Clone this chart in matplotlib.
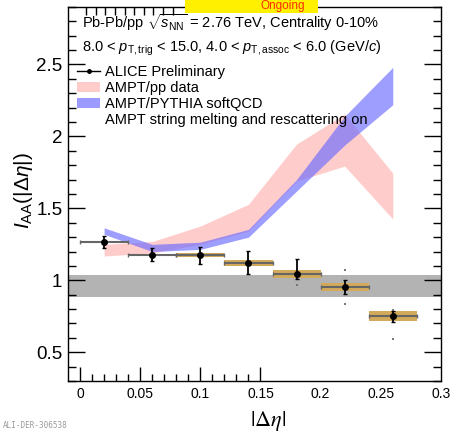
import numpy as np
import matplotlib
matplotlib.use("Agg")
import matplotlib.pyplot as plt
from matplotlib.lines import Line2D
from matplotlib.patches import Patch, Rectangle
from matplotlib.ticker import FixedLocator, MultipleLocator, NullFormatter

plt.rcParams['font.family'] = ['Liberation Sans', 'DejaVu Sans']
plt.rcParams['mathtext.fontset'] = 'custom'
plt.rcParams['mathtext.rm'] = 'Liberation Sans'
plt.rcParams['mathtext.it'] = 'Liberation Sans:italic'
plt.rcParams['mathtext.bf'] = 'Liberation Sans:bold'

# ALICE preliminary I_AA vs |delta eta|
deta = [0.02, 0.06, 0.10, 0.14, 0.18, 0.22, 0.26]
deta_half = [0.02, 0.02, 0.02, 0.02, 0.02, 0.02, 0.02]
iaa = [1.268, 1.178, 1.174, 1.122, 1.044, 0.953, 0.752]
stat_lo = [0.042, 0.046, 0.058, 0.079, 0.038, 0.047, 0.042]
stat_hi = [0.039, 0.046, 0.058, 0.079, 0.102, 0.047, 0.038]
syst = [0.0, 0.0, 0.013, 0.021, 0.026, 0.030, 0.036]

# extra small markers on the last bins
mark_x = [0.18, 0.22, 0.22, 0.26, 0.26]
mark_y = [0.965, 1.070, 0.833, 0.794, 0.592]

# AMPT bands
ampt_pp_lo = [1.169, 1.19, 1.25, 1.342, 1.69, 1.794, 1.426]
ampt_pp_hi = [1.25, 1.27, 1.377, 1.528, 1.947, 2.155, 1.745]
ampt_py_lo = [1.32, 1.20, 1.215, 1.30, 1.62, 1.94, 2.22]
ampt_py_hi = [1.365, 1.25, 1.265, 1.354, 1.70, 2.14, 2.48]

# normalisation uncertainty around unity
norm_lo, norm_hi = 0.886, 1.035

fig = plt.figure(figsize=(4.55, 4.33), dpi=100)
ax = fig.add_axes([0.1495, 0.12, 0.8195, 0.864])

ax.axhspan(norm_lo, norm_hi, color='#b3b3b3', lw=0, zorder=1)
ax.fill_between(deta, ampt_pp_lo, ampt_pp_hi, color='#ffcccc', lw=0, zorder=2)
ax.fill_between(deta, ampt_py_lo, ampt_py_hi, color='#6a6aff', alpha=0.65, lw=0, zorder=3)

# systematic boxes
sys_bottom = [v - s for v, s in zip(iaa, syst)]
sys_height = [2 * s for s in syst]
ax.bar(deta, sys_height, width=0.04, bottom=sys_bottom, color='#d3a95a',
       edgecolor='none', zorder=4)

ax.errorbar(deta, iaa, xerr=deta_half, fmt='none', ecolor='#666666',
            elinewidth=1.5, capsize=1.5, capthick=1, zorder=5)
ax.errorbar(deta, iaa, yerr=[stat_lo, stat_hi], fmt='o', color='black',
            ms=4, elinewidth=1.3, capsize=1.2, capthick=1, zorder=6)
ax.plot(mark_x, mark_y, 's', color='#777777', ms=1.8, mew=0, zorder=6)

ax.set_xlim(-0.01, 0.3)
ax.set_ylim(0.3, 2.9)

# ticks
ax.xaxis.set_major_locator(FixedLocator([0, 0.05, 0.1, 0.15, 0.2, 0.25, 0.3]))
ax.set_xticklabels(['0', '0.05', '0.1', '0.15', '0.2', '0.25', '0.3'])
ax.xaxis.set_minor_locator(FixedLocator([i / 100 for i in range(16)]))
ax.yaxis.set_minor_locator(MultipleLocator(0.1))
ax.set_yticks([0.5, 1, 1.5, 2, 2.5])
ax.set_yticklabels(['0.5', '1', '1.5', '2', '2.5'])

ax.tick_params(axis='x', which='major', direction='in', length=10, width=1,
               labelsize=10, pad=4, top=False)
ax.tick_params(axis='x', which='minor', direction='in', length=5, width=1, top=False)
ax.tick_params(axis='y', which='major', direction='in', length=12, width=1,
               labelsize=13.5, pad=4, right=True)
ax.tick_params(axis='y', which='minor', direction='in', length=6, width=1, right=True)
for tick in ax.xaxis.get_major_ticks()[4:]:
    tick.tick1line.set_visible(False)

top = ax.secondary_xaxis('top')
top.set_xticks(np.linspace(0.005, 0.077, 10))
top.xaxis.set_major_formatter(NullFormatter())
top.tick_params(direction='in', length=6, width=1)
top.spines['top'].set_visible(False)

for s in ax.spines.values():
    s.set_linewidth(1)

ax.set_xlabel(r'$|\Delta\eta|$', fontsize=16, math_fontfamily='stix')
ax.xaxis.set_label_coords(0.536, -0.075)
ax.set_ylabel(r'$I_{\rm AA}(|\Delta\eta|)$', fontsize=15)
ax.yaxis.set_label_coords(-0.088, 0.51)

ax.text(0.0375, 0.944, r'Pb-Pb/pp $\sqrt{s_{\rm NN}}$ = 2.76 TeV, Centrality 0-10%',
        transform=ax.transAxes, fontsize=10.5, va='baseline')
ax.text(0.0375, 0.880,
        r'8.0 < $p_{\rm T,trig}$ < 15.0, 4.0 < $p_{\rm T,assoc}$ < 6.0 (GeV/$c$)',
        transform=ax.transAxes, fontsize=10.5, va='baseline')

handles = [
    Line2D([], [], color='black', lw=1, marker='o', ms=2.5),
    Patch(facecolor='#ffcccc', edgecolor='none'),
    Patch(facecolor='#9b9bff', edgecolor='none'),
    Patch(facecolor='none', edgecolor='none'),
]
labels = ['ALICE Preliminary', 'AMPT/pp data', 'AMPT/PYTHIA softQCD',
          'AMPT string melting and rescattering on']
ax.legend(handles, labels, loc='upper left', bbox_to_anchor=(0.024, 0.844),
          frameon=False, fontsize=10.5, borderpad=0, borderaxespad=0,
          handlelength=1.6, handletextpad=0.3, labelspacing=0.12)

# yellow banner at the top
fig.patches.append(Rectangle((0.4066, 0.97), 0.2923, 0.03, transform=fig.transFigure,
                             facecolor='#fff000', edgecolor='none', zorder=0))
fig.text(0.670, 0.985, 'Ongoing', color='#ff2a00', fontsize=8.5, ha='right',
         va='center')

fig.text(0.006, 0.012, 'ALI-DER-306538', family='DejaVu Sans Mono', fontsize=5.5,
         color='#9a9a9a')

fig.savefig('out.png', dpi=100)
